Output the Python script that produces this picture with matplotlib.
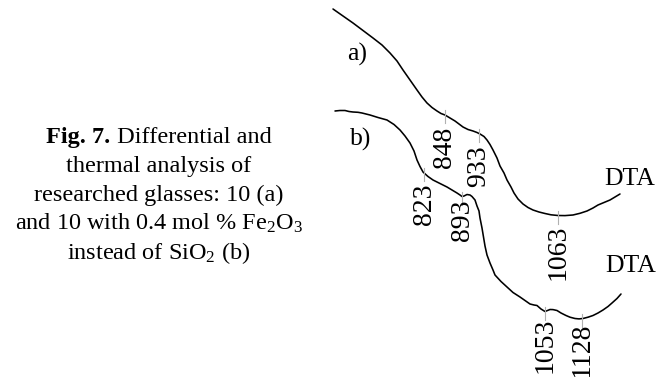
import numpy as np
import matplotlib
matplotlib.use("Agg")
import matplotlib.pyplot as plt

plt.rcParams['font.family'] = ['Liberation Serif', 'DejaVu Serif']
plt.rcParams['mathtext.fontset'] = 'custom'
plt.rcParams['mathtext.rm'] = 'Liberation Serif'
plt.rcParams['mathtext.it'] = 'Liberation Serif:italic'
plt.rcParams['mathtext.bf'] = 'Liberation Serif:bold'

# ---- data (traced curve shapes, figure-pixel units) ----
curve_a_x = [333, 343, 353, 363, 373, 382, 390, 397, 403, 410, 417, 422, 427, 432,
             437, 441, 445, 450, 455, 459, 463, 468, 473, 477, 480, 484, 487, 490,
             493, 497, 500, 504, 507, 511, 514, 518, 523, 528, 533, 539, 545, 551,
             558, 565, 573, 580, 587, 593, 598, 604, 610, 615, 620]
curve_a_y = [9, 16, 23, 30.5, 38, 45, 53, 61, 70, 80, 90, 97, 103, 107.5,
             111, 113.5, 115, 118, 121, 124, 127, 129.5, 131, 132.5, 134, 136.5, 140, 144.5,
             150, 158, 166, 173, 180, 187, 193, 199, 204, 207.5, 210, 212, 213.5, 214.8,
             215.5, 215.6, 215, 213.3, 211, 208, 205, 202.5, 200, 197, 194]

curve_b_x = [335, 340, 345, 349, 353, 358, 362, 366, 370, 378, 387, 394, 400, 405,
             410, 414, 417, 420, 423, 428, 433, 440, 447, 452, 457, 460, 462, 464,
             467, 470, 472, 475, 477, 479, 480, 482, 485, 487, 490, 493, 495, 501,
             507, 513, 520, 525, 530, 534, 537, 541, 545, 548, 550, 553, 557, 561,
             566, 570, 575, 579, 583, 588, 593, 598, 603, 608, 612, 617, 621]
curve_b_y = [111, 110.5, 110.5, 111.5, 112, 112.3, 113, 114, 115, 117.5, 120, 124.5, 130, 136,
             143, 151, 160, 166.5, 172, 176.5, 180, 183.5, 187, 190, 193, 195, 196.5, 196,
             194.5, 195, 196.5, 200, 206, 211, 218, 228, 246, 255, 263, 270, 275, 281.5,
             287, 292.5, 297, 300.5, 304, 305, 305.5, 309, 311.5, 310.3, 309.5, 309.6, 310.5, 313,
             315.5, 317.2, 318.5, 318.9, 318.5, 317.2, 315.5, 313, 310, 306.5, 303, 298.5, 294]

peaks_a_labels = ['848', '933', '1063']
peaks_a_x = [445, 479, 558]
peaks_b_labels = ['823', '893', '1053', '1128']
peaks_b_x = [424, 462, 545, 582]

caption_bold = 'Fig. 7.'
caption_first_rest = ' Differential and'
caption_lines = ['thermal analysis of',
                 'researched glasses: 10 (a)',
                 r'and 10 with 0.4 mol % Fe$_2$O$_3$',
                 r'instead of SiO$_2$ (b)']

# ---- layout / style ----
label_offsets_a = [12, 12, 9]
label_offsets_b = [11, 3, 6, 4]
CAP_X, CAP_Y0, CAP_DY, CAP_FS = 159, 143, 29, 17.5

fig = plt.figure(figsize=(6.64, 3.77), dpi=100)
ax = fig.add_axes([0, 0, 1, 1])
ax.set_xlim(0, 664)
ax.set_ylim(377, 0)
ax.axis('off')

ax.plot(curve_a_x, curve_a_y, color='black', lw=1.15, solid_joinstyle='round',
        solid_capstyle='round')
ax.plot(curve_b_x, curve_b_y, color='black', lw=1.15, solid_joinstyle='round',
        solid_capstyle='round')

def mark(cx, cy, xs, labels, offs):
    for x, lab, off in zip(xs, labels, offs):
        y = np.interp(x, cx, cy)
        ax.plot([x, x], [y - 5, y + 8], color='#b0b0b0', lw=0.8)
        ax.text(x, y + off, lab, rotation=90, ha='center', va='top',
                fontsize=20)

mark(curve_a_x, curve_a_y, peaks_a_x, peaks_a_labels, label_offsets_a)
mark(curve_b_x, curve_b_y, peaks_b_x, peaks_b_labels, label_offsets_b)

ax.text(347, 61, 'a)', fontsize=18.5, ha='left', va='baseline')
ax.text(350, 146, 'b)', fontsize=18.5, ha='left', va='baseline')
ax.text(604, 185, 'DTA', fontsize=18.5, ha='left', va='baseline')
ax.text(605, 272, 'DTA', fontsize=18.5, ha='left', va='baseline')

# first caption line: bold + regular, centred together
renderer = fig.canvas.get_renderer()
t_bold = ax.text(0, CAP_Y0, caption_bold, fontsize=CAP_FS, fontweight='bold',
                 ha='right', va='baseline')
t_rest = ax.text(0, CAP_Y0, caption_first_rest, fontsize=CAP_FS,
                 ha='left', va='baseline')
wb = t_bold.get_window_extent(renderer).width
wr = t_rest.get_window_extent(renderer).width
x_join = CAP_X - (wb + wr) / 2 + wb
t_bold.set_x(x_join)
t_rest.set_x(x_join)

for i, line in enumerate(caption_lines):
    ax.text(CAP_X, CAP_Y0 + CAP_DY * (i + 1), line, fontsize=CAP_FS,
            ha='center', va='baseline')

fig.savefig('out.png', dpi=100)
